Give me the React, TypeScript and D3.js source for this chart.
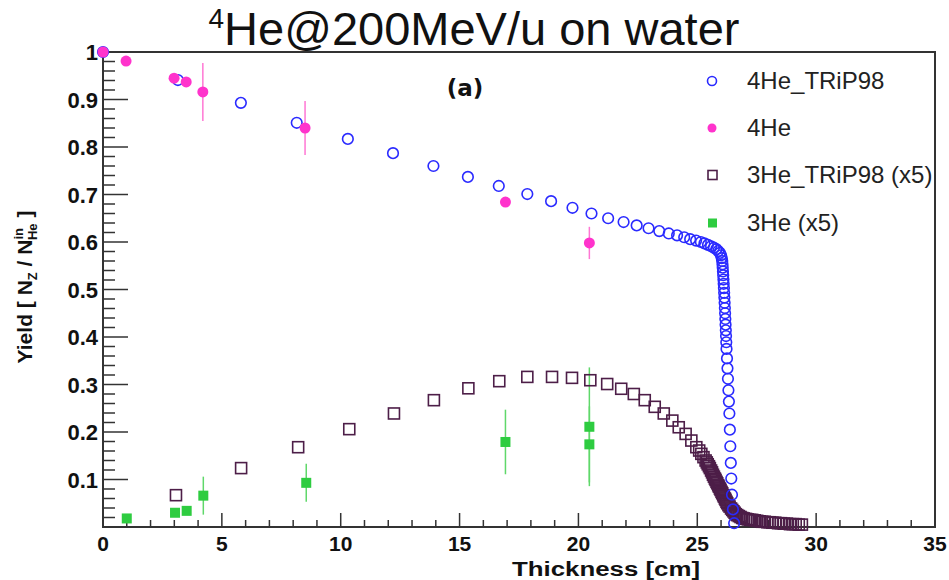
import React from "react";
import * as d3 from "d3";

// ---------- DATA ----------
const he4TripX = [0, 3.15, 5.8, 8.15, 10.3, 12.2, 13.9, 15.35, 16.65, 17.85, 18.85, 19.75, 20.55, 21.25, 21.9, 22.45, 22.95, 23.4, 23.8, 24.15, 24.45, 24.7, 24.95, 25.15, 25.3, 25.45, 25.58, 25.7, 25.8, 25.88, 25.95, 26.0, 26.03, 26.05, 26.06, 26.07, 26.08, 26.09, 26.1, 26.11, 26.12, 26.13, 26.14, 26.15, 26.16, 26.17, 26.18, 26.19, 26.2, 26.21, 26.22, 26.23, 26.25, 26.27, 26.29, 26.31, 26.33, 26.35, 26.37, 26.39, 26.41, 26.43, 26.46, 26.5, 26.55];
const he4TripY = [1.0, 0.941, 0.893, 0.851, 0.817, 0.787, 0.760, 0.737, 0.718, 0.701, 0.686, 0.672, 0.660, 0.650, 0.642, 0.635, 0.629, 0.623, 0.618, 0.614, 0.610, 0.606, 0.603, 0.600, 0.597, 0.594, 0.591, 0.588, 0.585, 0.581, 0.577, 0.572, 0.566, 0.560, 0.553, 0.546, 0.538, 0.530, 0.521, 0.512, 0.503, 0.493, 0.483, 0.472, 0.461, 0.450, 0.438, 0.426, 0.414, 0.402, 0.389, 0.375, 0.355, 0.334, 0.312, 0.288, 0.264, 0.239, 0.205, 0.170, 0.135, 0.102, 0.068, 0.037, 0.008];

const he4X = [0, 0.97, 2.99, 3.5, 4.2, 8.5, 16.93, 20.46];
const he4Y = [1.0, 0.981, 0.945, 0.937, 0.916, 0.840, 0.684, 0.598];
const he4Err = [0, 0, 0, 0, 0.061, 0.057, 0, 0.034];

const he3TripX = [3.07, 5.81, 8.21, 10.36, 12.24, 13.92, 15.37, 16.67, 17.85, 18.89, 19.73, 20.5, 21.21, 21.8, 22.33, 22.79, 23.21, 23.59, 23.95, 24.22, 24.51, 24.75, 24.96, 25.08, 25.17, 25.26, 25.35, 25.4, 25.44, 25.49, 25.53, 25.58, 25.62, 25.66, 25.7, 25.74, 25.77, 25.81, 25.84, 25.88, 25.91, 25.95, 25.98, 26.02, 26.05, 26.09, 26.12, 26.16, 26.19, 26.23, 26.26, 26.31, 26.36, 26.42, 26.47, 26.52, 26.57, 26.62, 26.68, 26.75, 26.82, 26.89, 26.96, 27.05, 27.13, 27.22, 27.31, 27.42, 27.52, 27.63, 27.73, 27.84, 27.95, 28.05, 28.16, 28.28, 28.4, 28.52, 28.64, 28.77, 28.9, 29.02, 29.14, 29.27, 29.4];
const he3TripY = [0.067, 0.124, 0.168, 0.206, 0.239, 0.267, 0.292, 0.307, 0.316, 0.316, 0.314, 0.309, 0.301, 0.291, 0.280, 0.267, 0.253, 0.239, 0.224, 0.210, 0.196, 0.182, 0.168, 0.161, 0.154, 0.147, 0.140, 0.136, 0.132, 0.128, 0.124, 0.119, 0.115, 0.110, 0.106, 0.102, 0.099, 0.095, 0.092, 0.088, 0.085, 0.081, 0.078, 0.074, 0.071, 0.067, 0.064, 0.060, 0.057, 0.053, 0.050, 0.046, 0.043, 0.039, 0.036, 0.033, 0.030, 0.027, 0.025, 0.023, 0.021, 0.019, 0.018, 0.017, 0.016, 0.015, 0.015, 0.014, 0.013, 0.012, 0.011, 0.011, 0.010, 0.010, 0.009, 0.009, 0.008, 0.008, 0.007, 0.007, 0.006, 0.006, 0.006, 0.005, 0.005];

const he3X = [1.0, 3.03, 3.52, 4.22, 8.55, 16.93, 20.46, 20.46];
const he3Y = [0.018, 0.030, 0.034, 0.066, 0.093, 0.179, 0.211, 0.174];
const he3Err = [0, 0, 0.007, 0.040, 0.040, 0.068, 0.125, 0.08];

const xMajor = [0, 5, 10, 15, 20, 25, 30, 35];
const yMajor = [0.1, 0.2, 0.3, 0.4, 0.5, 0.6, 0.7, 0.8, 0.9, 1];
const yLabels = ["0.1", "0.2", "0.3", "0.4", "0.5", "0.6", "0.7", "0.8", "0.9", "1"];
const legendLabels = ["4He_TRiP98", "4He", "3He_TRiP98 (x5)", "3He (x5)"];

// ---------- LAYOUT ----------
const W = 949, H = 580;
const L = 103, R = 935, T = 52, B = 527;
const x = d3.scaleLinear().domain([0, 35]).range([L, R]);
const y = d3.scaleLinear().domain([0, 1]).range([B, T]);

const BLUE = "#2a2aff";
const PINK = "#ff33cc";
const PINK_ERR = "#ff77d4";
const PURPLE = "#4d1e48";
const GREEN = "#2ecc40";
const GREEN_ERR = "#5fd86a";
const AXIS = "#333";
const FONT = "'Liberation Sans', Arial, Helvetica, sans-serif";

export default function App() {
  const xMinor = d3.range(0, 35.01, 1);
  const yMinor = d3.range(0, 1.001, 0.02);
  const rows = [81, 128, 175, 223];
  return (
    <svg width={W} height={H} style={{ position: "absolute", left: 0, top: 0, background: "#fff" }} fontFamily={FONT}>
      <rect x={0} y={0} width={W} height={H} fill="#fff" />
      {/* title */}
      <text x={474} y={45} textAnchor="middle" fontSize={47} fill="#111">
        <tspan fontSize={28} dy={-17}>4</tspan>
        <tspan dy={17}>He@200MeV/u on water</tspan>
      </text>
      {/* frame */}
      <rect x={L} y={T} width={R - L} height={B - T} fill="none" stroke={AXIS} strokeWidth={2} />
      {/* x ticks */}
      {xMinor.map((v) => (
        <line key={"xm" + v} x1={x(v)} x2={x(v)} y1={B} y2={B - (v % 5 === 0 ? 14 : 7)} stroke={AXIS} strokeWidth={1.5} />
      ))}
      {xMajor.map((v) => (
        <text key={"xl" + v} x={x(v)} y={551} textAnchor="middle" fontSize={21} fontWeight="bold" fill="#111">{v}</text>
      ))}
      {/* y ticks */}
      {yMinor.map((v, i) => (
        <line key={"ym" + i} x1={L} x2={L + (i % 5 === 0 ? 25 : 12)} y1={y(v)} y2={y(v)} stroke={AXIS} strokeWidth={1.5} />
      ))}
      {yMajor.map((v, i) => (
        <text key={"yl" + i} x={98} y={y(v) + 8} textAnchor="end" fontSize={22} fontWeight="bold" fill="#111">{yLabels[i]}</text>
      ))}
      {/* axis titles */}
      <text x={512} y={576} textLength={188} lengthAdjust="spacingAndGlyphs" fontSize={20} fontWeight="bold" fill="#111">Thickness [cm]</text>
      <text transform={`translate(32,${287}) rotate(-90)`} textAnchor="middle" fontSize={21} fontWeight="bold" fill="#111">
        Yield [ N<tspan fontSize={13} dy={5}>Z</tspan><tspan dy={-5}> / N</tspan>
        <tspan fontSize={13} dy={-9}>in</tspan><tspan fontSize={13} dx={-12} dy={14}>He</tspan><tspan dy={-5}> ]</tspan>
      </text>
      <text x={465} y={96} textAnchor="middle" fontSize={23} fontWeight="bold" fontFamily="'DejaVu Sans', sans-serif" fill="#111">(a)</text>

      {/* error bars */}
      {he4X.map((v, i) => he4Err[i] > 0 ? (
        <line key={"e4" + i} x1={x(v)} x2={x(v)} y1={y(he4Y[i] - he4Err[i])} y2={y(he4Y[i] + he4Err[i])} stroke={PINK_ERR} strokeWidth={1.5} />
      ) : null)}
      {he3X.map((v, i) => he3Err[i] > 0 ? (
        <line key={"e3" + i} x1={x(v)} x2={x(v)} y1={y(he3Y[i] - he3Err[i])} y2={y(he3Y[i] + he3Err[i])} stroke={GREEN_ERR} strokeWidth={1.5} />
      ) : null)}

      {/* 3He TRiP98 squares */}
      {he3TripX.map((v, i) => (
        <rect key={"s" + i} x={x(v) - 5.5} y={y(he3TripY[i]) - 5.5} width={11} height={11} fill="none" stroke={PURPLE} strokeWidth={1.6} />
      ))}
      {/* 4He TRiP98 circles */}
      {he4TripX.map((v, i) => (
        <circle key={"c" + i} cx={x(v)} cy={y(he4TripY[i])} r={5.3} fill="none" stroke={BLUE} strokeWidth={1.6} />
      ))}
      {/* 3He data */}
      {he3X.map((v, i) => (
        <rect key={"g" + i} x={x(v) - 5} y={y(he3Y[i]) - 5} width={10} height={10} fill={GREEN} />
      ))}
      {/* 4He data */}
      {he4X.map((v, i) => (
        <circle key={"p" + i} cx={x(v)} cy={y(he4Y[i])} r={5.5} fill={PINK} />
      ))}

      {/* legend */}
      <circle cx={712} cy={rows[0]} r={4.5} fill="none" stroke={BLUE} strokeWidth={1.6} />
      <circle cx={712} cy={rows[1]} r={4.5} fill={PINK} />
      <rect x={708} y={rows[2] - 4.5} width={9} height={9} fill="none" stroke={PURPLE} strokeWidth={1.6} />
      <rect x={708} y={rows[3] - 4.5} width={9} height={9} fill={GREEN} />
      {legendLabels.map((t, i) => (
        <text key={"lg" + i} x={747} y={rows[i] + 8} fontSize={24} fill="#222">{t}</text>
      ))}
    </svg>
  );
}
